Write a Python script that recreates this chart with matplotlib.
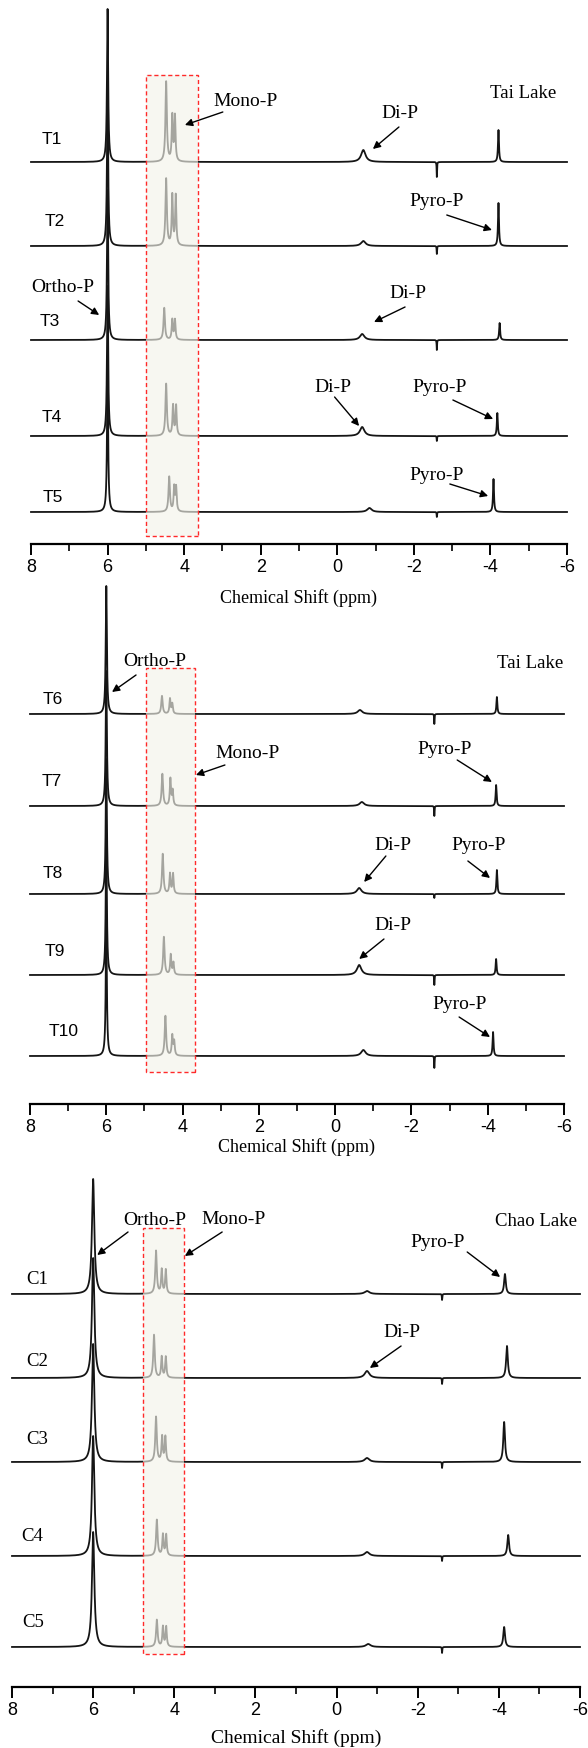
import numpy as np
import matplotlib.pyplot as plt
from matplotlib.ticker import MultipleLocator
from matplotlib.patches import Rectangle

# ---- peak tables (ppm, height in px above baseline) ----
# Tai Lake, T1-T5
p1_names = ["T1", "T2", "T3", "T4", "T5"]
p1_ortho_h = [153, 160, 150, 150, 140]
p1_mono_ppm = [4.47, 4.47, 4.52, 4.47, 4.39]
p1_mono_h = [80, 67, 32, 52, 35]
p1_mono2_ppm = [4.31, 4.31, 4.31, 4.29, 4.26]
p1_mono2_h = [45, 50, 20, 30, 24]
p1_mono3_ppm = [4.24, 4.22, 4.24, 4.21, 4.21]
p1_mono3_h = [45, 50, 20, 30, 24]
p1_di_ppm = [-0.68, -0.68, -0.65, -0.65, -0.84]
p1_di_h = [12, 5, 6, 9, 4]
p1_pyro_ppm = [-4.21, -4.21, -4.24, -4.18, -4.08]
p1_pyro_h = [32, 43, 17, 23, 33]
p1_spike_h = [-15, -8, -10, -5, -5]

# Tai Lake, T6-T10
p2_names = ["T6", "T7", "T8", "T9", "T10"]
p2_ortho_h = [128, 135, 135, 135, 130]
p2_mono_ppm = [4.54, 4.53, 4.52, 4.49, 4.45]
p2_mono_h = [18, 32, 40, 38, 40]
p2_mono2_ppm = [4.33, 4.32, 4.33, 4.31, 4.27]
p2_mono2_h = [15, 27, 20, 20, 20]
p2_mono3_ppm = [4.27, 4.26, 4.25, 4.24, 4.22]
p2_mono3_h = [10, 15, 20, 12, 14]
p2_di_ppm = [-0.65, -0.70, -0.63, -0.63, -0.74]
p2_di_h = [4, 4, 6, 10, 6]
p2_pyro_ppm = [-4.24, -4.22, -4.24, -4.22, -4.14]
p2_pyro_h = [17, 21, 24, 16, 24]
p2_spike_h = [-10, -10, -4, -10, -12]

# Chao Lake, C1-C5
p3_names = ["C1", "C2", "C3", "C4", "C5"]
p3_ortho_h = [115, 120, 118, 120, 115]
p3_mono_ppm = [4.45, 4.50, 4.45, 4.43, 4.43]
p3_mono_h = [43, 43, 45, 36, 27]
p3_mono2_ppm = [4.31, 4.31, 4.30, 4.28, 4.28]
p3_mono2_h = [24, 21, 25, 21, 20]
p3_mono3_ppm = [4.21, 4.21, 4.22, 4.20, 4.20]
p3_mono3_h = [24, 21, 25, 21, 20]
p3_di_ppm = [-0.75, -0.75, -0.75, -0.75, -0.78]
p3_di_h = [3, 7, 4, 4, 3]
p3_pyro_ppm = [-4.15, -4.20, -4.13, -4.23, -4.13]
p3_pyro_h = [20, 32, 40, 21, 20]
p3_spike_h = [-6, -6, -6, -5, -6]

ORTHO_PPM = 6.0
SPIKE_PPM = -2.6

SERIF = "Liberation Serif"
SANS = "Liberation Sans"

W, H = 588, 1749
fig = plt.figure(figsize=(W / 100, H / 100), dpi=100)
x = np.linspace(8.2, -6.2, 14401)
keep = (x <= 8) & (x >= -6)


def lor(x, c, h, w):
    return h * w**2 / ((x - c)**2 + w**2)


def panel(left, right, top, axis_px, names, ortho_h, mono, mono2, mono3, di,
          pyro, spike_h, baselines, label_pos, label_font, label_size, box,
          notes, lake, ortho_w, pyro_w):
    ax = fig.add_axes([left / W, 1 - axis_px / H, (right - left) / W, (axis_px - top) / H])
    for i, name in enumerate(names):
        y = lor(x, ORTHO_PPM, ortho_h[i], ortho_w)
        y += lor(x, mono[0][i], mono[1][i], 0.022)
        y += lor(x, mono2[0][i], mono2[1][i], 0.018)
        y += lor(x, mono3[0][i], mono3[1][i], 0.018)
        y += lor(x, di[0][i], di[1][i], 0.07)
        y += lor(x, pyro[0][i], pyro[1][i], pyro_w)
        y += lor(x, SPIKE_PPM, spike_h[i], 0.006)
        ax.plot(x[keep], (y + baselines[i])[keep],
                color="#151515", lw=1.3, zorder=2, clip_on=False)
        ax.text(label_pos[i][0], label_pos[i][1], name, family=label_font,
                fontsize=label_size, ha="center", va="center")
    x0, x1, y0, y1 = box
    ax.add_patch(Rectangle((x1, y0), x0 - x1, y1 - y0, facecolor="#f3f3ea",
                           alpha=0.65, edgecolor="none", zorder=3))
    ax.add_patch(Rectangle((x1, y0), x0 - x1, y1 - y0, facecolor="none",
                           edgecolor="#ff2a2a", lw=1.0, ls=(0, (3, 2)), zorder=4))
    for txt, txy, tail, tip in notes:
        ax.text(txy[0], txy[1], txt, family=SERIF, fontsize=14, ha="center", va="center")
        ax.annotate("", xy=tip, xytext=tail,
                    arrowprops=dict(arrowstyle="-|>", color="k", lw=1.0,
                                    mutation_scale=11, shrinkA=0, shrinkB=0))
    ax.text(lake[1][0], lake[1][1], lake[0], family=SERIF, fontsize=13.5,
            ha="center", va="center")

    ax.set_xlim(8, -6)
    ax.set_ylim(0, axis_px - top)
    for s in ["top", "right", "left"]:
        ax.spines[s].set_visible(False)
    ax.spines["bottom"].set_linewidth(1.6)
    ax.set_yticks([])
    ax.xaxis.set_major_locator(MultipleLocator(2))
    ax.xaxis.set_minor_locator(MultipleLocator(1))
    ax.tick_params(axis="x", which="major", length=8, width=1.4, direction="out", pad=2)
    ax.tick_params(axis="x", which="minor", length=5, width=1.2, direction="out")
    ax.set_xticklabels([f"{int(v)}" for v in ax.get_xticks()], family=SANS, fontsize=13)
    ax.patch.set_alpha(0)
    return ax


panel(31, 567, 0, 545, p1_names, p1_ortho_h,
      (p1_mono_ppm, p1_mono_h), (p1_mono2_ppm, p1_mono2_h), (p1_mono3_ppm, p1_mono3_h),
      (p1_di_ppm, p1_di_h), (p1_pyro_ppm, p1_pyro_h), p1_spike_h,
      [382, 298, 204, 108, 32],
      [(7.45, 405), (7.37, 323), (7.5, 223), (7.45, 128), (7.43, 47)], SANS, 12.5,
      (5.0, 3.63, 8, 469),
      [("Mono-P", (2.39, 443), (2.99, 432), (3.98, 419)),
       ("Di-P", (-1.64, 431), (-1.61, 417), (-0.93, 395)),
       ("Pyro-P", (-2.6, 343), (-2.86, 329), (-4.04, 314)),
       ("Ortho-P", (7.16, 258), (6.77, 243), (6.22, 229)),
       ("Di-P", (-1.85, 252), (-1.77, 237), (-0.96, 222)),
       ("Di-P", (0.12, 157), (0.07, 147), (-0.57, 118)),
       ("Pyro-P", (-2.68, 157), (-3.02, 144), (-4.07, 125)),
       ("Pyro-P", (-2.6, 70), (-2.94, 60), (-3.94, 48))],
      ("Tai Lake", (-4.85, 452)), 0.018, 0.015)
fig.text(299 / W, 1 - 598 / H, "Chemical Shift (ppm)", family=SERIF, fontsize=13,
         ha="center", va="center")

panel(30, 564, 575, 1105, p2_names, p2_ortho_h,
      (p2_mono_ppm, p2_mono_h), (p2_mono2_ppm, p2_mono2_h), (p2_mono3_ppm, p2_mono3_h),
      (p2_di_ppm, p2_di_h), (p2_pyro_ppm, p2_pyro_h), p2_spike_h,
      [390, 298, 210, 129, 48],
      [(7.4, 406), (7.42, 323), (7.4, 231), (7.34, 153), (7.13, 73)], SANS, 12.5,
      (4.96, 3.67, 32, 436),
      [("Ortho-P", (4.72, 443), (5.22, 429), (5.85, 412)),
       ("Mono-P", (2.31, 351), (2.89, 339), (3.65, 329)),
       ("Pyro-P", (-2.88, 355), (-3.2, 344), (-4.11, 322)),
       ("Di-P", (-1.52, 260), (-1.33, 248), (-0.76, 222)),
       ("Pyro-P", (-3.75, 260), (-3.48, 243), (-4.06, 226)),
       ("Di-P", (-1.52, 179), (-1.28, 165), (-0.63, 145)),
       ("Pyro-P", (-3.27, 100), (-3.25, 87), (-4.06, 67))],
      ("Tai Lake", (-5.11, 442)), 0.018, 0.015)
fig.text(297 / W, 1 - 1147 / H, "Chemical Shift (ppm)", family=SERIF, fontsize=13,
         ha="center", va="center")

panel(12, 580, 1165, 1688, p3_names, p3_ortho_h,
      (p3_mono_ppm, p3_mono_h), (p3_mono2_ppm, p3_mono2_h), (p3_mono3_ppm, p3_mono3_h),
      (p3_di_ppm, p3_di_h), (p3_pyro_ppm, p3_pyro_h), p3_spike_h,
      [393, 309, 225, 131, 40],
      [(7.38, 408), (7.38, 326), (7.38, 248), (7.51, 151), (7.48, 65)], SERIF, 13.5,
      (4.77, 3.76, 33, 459),
      [("Ortho-P", (4.48, 467), (5.14, 455), (5.9, 432)),
       ("Mono-P", (2.55, 468), (2.82, 455), (3.74, 431)),
       ("Pyro-P", (-2.48, 445), (-3.22, 435), (-4.03, 410)),
       ("Di-P", (-1.61, 355), (-1.59, 341), (-0.82, 319))],
      ("Chao Lake", (-4.92, 466)), 0.035, 0.025)
fig.text(296 / W, 1 - 1738 / H, "Chemical Shift (ppm)", family=SERIF, fontsize=14,
         ha="center", va="center")

fig.savefig("out.png", dpi=100)
